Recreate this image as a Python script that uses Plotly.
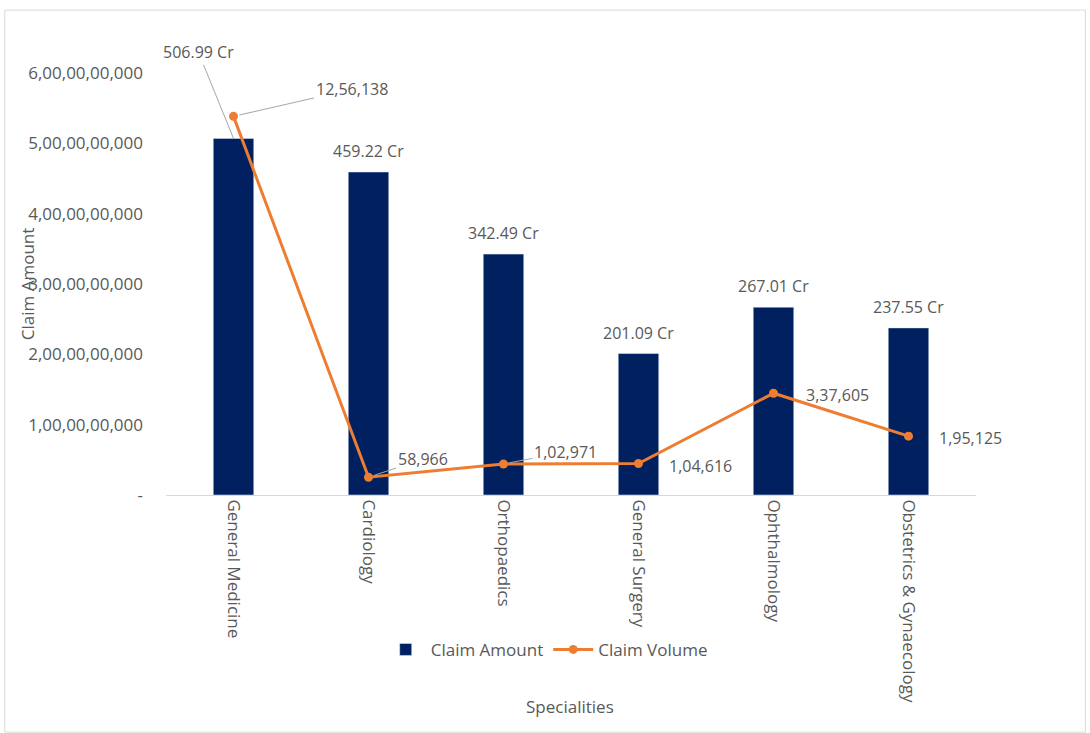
import plotly.graph_objects as go

# ---------------- data ----------------
categories = ["General Medicine", "Cardiology", "Orthopaedics",
              "General Surgery", "Ophthalmology", "Obstetrics & Gynaecology"]
claim_amount = [5069900000, 4592200000, 3424900000, 2010900000, 2670100000, 2375500000]
claim_volume = [1256138, 58966, 102971, 104616, 337605, 195125]
amount_tick_values = [0, 1e9, 2e9, 3e9, 4e9, 5e9, 6e9]
amount_tick_labels = ["-", "1,00,00,00,000", "2,00,00,00,000", "3,00,00,00,000",
                      "4,00,00,00,000", "5,00,00,00,000", "6,00,00,00,000"]


def indian_format(n):
    s = str(int(n))
    if len(s) <= 3:
        return s
    head, tail = s[:-3], s[-3:]
    groups = []
    while len(head) > 2:
        groups.insert(0, head[-2:])
        head = head[:-2]
    if head:
        groups.insert(0, head)
    return ",".join(groups) + "," + tail


def crore(v):
    return f"{v / 1e7:.2f} Cr"


FONT = "Open Sans"
TXT = "#595959"
NAVY = "#002060"
ORANGE = "#ED7D31"
LBL = 16

fig = go.Figure()
fig.add_trace(go.Bar(x=categories, y=claim_amount, name="Claim Amount",
                     marker=dict(color=NAVY), yaxis="y"))
fig.add_trace(go.Scatter(x=categories, y=claim_volume, name="Claim Volume",
                         mode="lines+markers", yaxis="y2",
                         line=dict(color=ORANGE, width=3),
                         marker=dict(color=ORANGE, size=9)))

annotations = []
# bar value labels
for i, (c, v) in enumerate(zip(categories, claim_amount)):
    if i == 0:
        annotations.append(dict(x=c, y=v, xref="x", yref="y", text=crore(v),
                                showarrow=True, arrowhead=0, arrowwidth=1,
                                arrowcolor="#A6A6A6", ax=-35, ay=-86,
                                font=dict(family=FONT, size=LBL, color=TXT)))
    else:
        annotations.append(dict(x=c, y=v, xref="x", yref="y", text=crore(v),
                                showarrow=False, yanchor="bottom", yshift=8,
                                font=dict(family=FONT, size=LBL, color=TXT)))

# line value labels
vol_style = [
    dict(arrow=True, ax=118, ay=-27),
    dict(arrow=True, ax=54, ay=-18),
    dict(arrow=True, ax=62, ay=-12),
    dict(arrow=False, dx=62, dy=-3),
    dict(arrow=False, dx=64, dy=-2),
    dict(arrow=False, dx=62, dy=-2),
]
for c, v, st in zip(categories, claim_volume, vol_style):
    if st["arrow"]:
        annotations.append(dict(x=c, y=v, xref="x", yref="y2", text=indian_format(v),
                                showarrow=True, arrowhead=0, arrowwidth=1,
                                arrowcolor="#A6A6A6", ax=st["ax"], ay=st["ay"],
                                standoff=6,
                                font=dict(family=FONT, size=LBL, color=TXT)))
    else:
        annotations.append(dict(x=c, y=v, xref="x", yref="y2", text=indian_format(v),
                                showarrow=False, xshift=st["dx"], yshift=st["dy"],
                                font=dict(family=FONT, size=LBL, color=TXT)))

# axis titles
annotations.append(dict(x=-0.188, y=0.5, xref="paper", yref="paper",
                        text="Claim Amount", textangle=-90, showarrow=False,
                        font=dict(family=FONT, size=17, color=TXT)))
annotations.append(dict(x=0.499, y=-0.533, xref="paper", yref="paper",
                        text="Specialities", showarrow=False,
                        font=dict(family=FONT, size=17, color=TXT)))

fig.update_layout(
    width=1090, height=733,
    margin=dict(l=166, r=114, t=73, b=238, autoexpand=False),
    paper_bgcolor="white", plot_bgcolor="white",
    bargap=0.7,
    font=dict(family=FONT, size=17, color=TXT),
    showlegend=True,
    legend=dict(orientation="h", x=0.47, xanchor="center", y=-0.367, yanchor="middle",
                font=dict(family=FONT, size=17, color=TXT), itemwidth=40,
                bgcolor="rgba(0,0,0,0)"),
    xaxis=dict(type="category", range=[-0.5, 5.5], autorange=False,
               tickangle=90, showgrid=False, showline=True,
               linecolor="#D9D9D9", linewidth=1, ticks="", automargin=False,
               tickfont=dict(family=FONT, size=17, color=TXT)),
    yaxis=dict(range=[0, 6e9], autorange=False, tickvals=amount_tick_values,
               ticktext=amount_tick_labels, automargin=False,
               showgrid=False, zeroline=False, showline=False, ticks="",
               ticklabelstandoff=22,
               tickfont=dict(family=FONT, size=17, color=TXT)),
    yaxis2=dict(range=[0, 1.4e6], autorange=False, overlaying="y", side="right",
                visible=False),
    annotations=annotations,
    shapes=[dict(type="rect", xref="paper", yref="paper",
                 x0=-0.199, x1=1.135, y0=-0.562, y1=1.149,
                 line=dict(color="#D9D9D9", width=1), fillcolor="rgba(0,0,0,0)",
                 layer="below")],
)

fig.write_html("out.html")
